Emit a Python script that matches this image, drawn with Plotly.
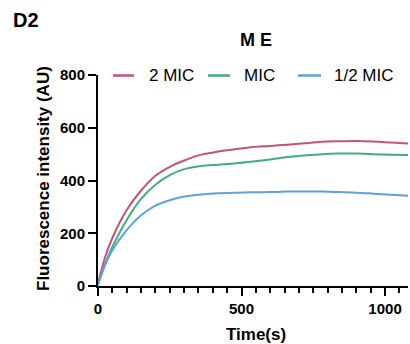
import plotly.graph_objects as go

time_s = [0, 25, 50, 100, 150, 200, 250, 300, 360, 420, 480, 540, 600, 660, 720, 780, 840, 900, 960, 1020, 1080]
mic2 = [10, 110, 182, 288, 362, 418, 452, 476, 498, 510, 519, 527, 531, 536, 541, 547, 549, 550, 548, 544, 540]
mic1 = [5, 85, 148, 250, 330, 384, 420, 443, 455, 460, 465, 472, 480, 489, 495, 500, 502, 502, 500, 498, 497]
mic_half = [5, 80, 136, 212, 268, 305, 325, 339, 347, 352, 354, 355, 356, 358, 358, 358, 356, 354, 350, 346, 342]
series_names = ["2 MIC", "MIC", "1/2 MIC"]
series_values = [mic2, mic1, mic_half]

colors = ["#c94f7c", "#3fae80", "#5ba3d9"]

fig = go.Figure()
for name, vals, col in zip(series_names, series_values, colors):
    fig.add_trace(go.Scatter(x=time_s, y=vals, mode="lines", name=name, showlegend=False,
                             line=dict(color=col, width=2, shape="spline", smoothing=0.8)))

FONT = "Liberation Sans, Arial, sans-serif"
L, R, T, B = 98, 2, 75, 58
W, H = 410 - L - R, 344 - T - B


def px(x):
    return (x - L) / W


def py(y):
    return (344 - B - y) / H


# manual legend (line samples + labels) placed in pixel terms
legend_line_x = [(113, 134), (208, 230), (298, 321)]
legend_text_x = [147, 242, 332]
legend_y = 75.5
shapes = []
annotations = []
for (x0, x1), tx, name, col in zip(legend_line_x, legend_text_x, series_names, colors):
    shapes.append(dict(type="line", xref="paper", yref="paper", x0=px(x0), x1=px(x1),
                       y0=py(legend_y), y1=py(legend_y), line=dict(color=col, width=2.5)))
    annotations.append(dict(text=name, x=px(tx), y=py(legend_y), xref="paper", yref="paper",
                            showarrow=False, xanchor="left", yanchor="middle",
                            font=dict(size=17, family=FONT, color="black")))

annotations += [
    dict(text="<b>M E</b>", x=px(256), y=py(40), xref="paper", yref="paper", showarrow=False,
         xanchor="center", yanchor="middle", font=dict(size=18, family=FONT)),
    dict(text="<b>D2</b>", x=px(26), y=py(20), xref="paper", yref="paper", showarrow=False,
         xanchor="center", yanchor="middle", font=dict(size=20, family=FONT)),
    dict(text="<b>Time(s)</b>", x=px(256), y=py(334), xref="paper", yref="paper", showarrow=False,
         xanchor="center", yanchor="middle", font=dict(size=17, family=FONT)),
    dict(text="<b>Fluorescence intensity (AU)</b>", x=px(43), y=py(179), xref="paper", yref="paper",
         showarrow=False, textangle=-90, xanchor="center", yanchor="middle",
         font=dict(size=17, family=FONT)),
]

fig.update_layout(
    width=410, height=344,
    margin=dict(l=L, r=R, t=T, b=B, autoexpand=False),
    paper_bgcolor="white", plot_bgcolor="white",
    font=dict(family=FONT, color="black"),
    showlegend=False,
    xaxis=dict(range=[0, 1080], dtick=500, tick0=0, showline=True, linewidth=2, linecolor="black",
               ticks="outside", ticklen=8, tickwidth=2, tickcolor="black",
               minor=dict(dtick=50, ticks="outside", ticklen=5, tickwidth=1.5, tickcolor="black"),
               showgrid=False, zeroline=False, automargin=False,
               tickfont=dict(size=15, family=FONT, color="black", weight="bold")),
    yaxis=dict(range=[0, 800], dtick=200, showline=True, linewidth=2, linecolor="black",
               ticks="outside", ticklen=8, tickwidth=2, tickcolor="black",
               showgrid=False, zeroline=False, automargin=False,
               tickfont=dict(size=15, family=FONT, color="black", weight="bold")),
    shapes=shapes,
    annotations=annotations,
)

fig.write_html("out.html", config={"displayModeBar": False},
               post_script="document.body.style.margin='0';document.body.style.overflow='hidden';")
